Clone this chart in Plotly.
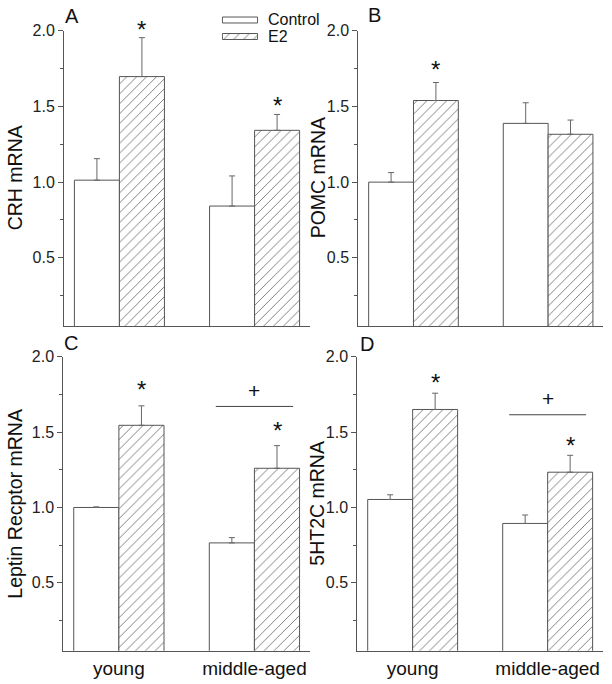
import plotly.graph_objects as go

W, H = 612, 684

groups = ["young", "middle-aged"]
y_titles = ["CRH mRNA", "POMC mRNA", "Leptin Recptor mRNA", "5HT2C mRNA"]
letters = ["A", "B", "C", "D"]

control_vals = [[1.013, 0.842], [1.0, 1.388], [1.0, 0.765], [1.053, 0.894]]
control_err = [[0.142, 0.199], [0.063, 0.136], [0.004, 0.035], [0.031, 0.056]]
e2_vals = [[1.697, 1.342], [1.539, 1.316], [1.545, 1.26], [1.65, 1.234]]
e2_err = [[0.257, 0.105], [0.119, 0.094], [0.129, 0.15], [0.108, 0.112]]

# significance stars above E2 bars (None = no star)
stars = [[2.048, 1.546], [1.783, None], [1.82, 1.547], [1.87, 1.452]]
# "+" marks and bars over the middle-aged group (None = none)
plus_y = [None, None, 1.776, 1.725]
plus_line_y = [None, None, 1.67, 1.615]

Y_RANGE = [0.05, 2.0]

# panel geometry in pixels (left, right, top, bottom)
px_boxes = [(64, 310, 30.7, 326), (358.3, 603.3, 30.7, 326),
            (63.3, 310, 356.7, 650.7), (357.3, 603, 356.7, 650.7)]
title_x = [15, 318, 15, 317]
letter_pos = [(72, 16), (374, 15.5), (71, 343.5), (367, 344)]

FONT = "Liberation Sans, Arial, sans-serif"
AX = "#555555"
fig = go.Figure()
layout = {}
annotations = []
shapes = []


def to_paper(i, v):
    l, r, t, b = px_boxes[i]
    y0, y1 = 1 - b / H, 1 - t / H
    return y0 + (v - Y_RANGE[0]) / (Y_RANGE[1] - Y_RANGE[0]) * (y1 - y0)


for i in range(4):
    n = i + 1
    xa = "x" if n == 1 else f"x{n}"
    ya = "y" if n == 1 else f"y{n}"
    l, r, t, b = px_boxes[i]
    fig.add_trace(go.Bar(
        x=[0, 1], y=control_vals[i], xaxis=xa, yaxis=ya, showlegend=False,
        marker=dict(color="white", line=dict(color=AX, width=1)),
        error_y=dict(type="data", array=control_err[i], arrayminus=[0, 0],
                     symmetric=False, color="#666666", thickness=1, width=3),
    ))
    fig.add_trace(go.Bar(
        x=[0, 1], y=e2_vals[i], xaxis=xa, yaxis=ya, showlegend=False,
        marker=dict(color="white", line=dict(color=AX, width=1),
                    pattern=dict(shape="/", fgcolor="#000000", bgcolor="white",
                                 size=7, solidity=0.14)),
        error_y=dict(type="data", array=e2_err[i], arrayminus=[0, 0],
                     symmetric=False, color="#666666", thickness=1, width=3),
    ))
    layout["xaxis" if n == 1 else f"xaxis{n}"] = dict(
        domain=[l / W, r / W], anchor=ya, range=[-0.41, 1.41],
        tickvals=[0, 1], ticktext=groups, showticklabels=(i >= 2),
        ticks="", showline=True, linecolor=AX, linewidth=1,
        showgrid=False, zeroline=False, automargin=False,
        tickfont=dict(family=FONT, size=19, color="#111"),
    )
    layout["yaxis" if n == 1 else f"yaxis{n}"] = dict(
        domain=[1 - b / H, 1 - t / H], anchor=xa, range=Y_RANGE,
        tickvals=[0.5, 1.0, 1.5, 2.0], ticktext=["0.5", "1.0", "1.5", "2.0"],
        ticks="outside", ticklen=5, tickcolor=AX, tickwidth=1,
        minor=dict(tickvals=[0.25, 0.75, 1.25, 1.75], ticks="outside",
                   ticklen=3, tickcolor=AX, showgrid=False),
        showline=True, linecolor=AX, linewidth=1,
        showgrid=False, zeroline=False, automargin=False,
        tickfont=dict(family=FONT, size=16, color="#222"),
    )
    # y titles
    annotations.append(dict(
        text=y_titles[i], xref="paper", yref="paper", x=title_x[i] / W,
        y=1 - (t + b) / 2 / H, textangle=-90, showarrow=False,
        xanchor="center", yanchor="middle",
        font=dict(family=FONT, size=19.5, color="#111")))
    # panel letters
    lx, ly = letter_pos[i]
    annotations.append(dict(
        text=letters[i], xref="paper", yref="paper", x=lx / W, y=1 - ly / H,
        showarrow=False, xanchor="center", yanchor="middle",
        font=dict(family=FONT, size=20, color="#111")))
    # stars
    for g in range(2):
        sy = stars[i][g]
        if sy is not None:
            annotations.append(dict(
                text="*", xref=xa, yref="paper", x=g + 1 / 6, y=to_paper(i, sy),
                yshift=-6, showarrow=False, xanchor="center", yanchor="middle",
                font=dict(family=FONT, size=24, color="#111")))
    if plus_y[i] is not None:
        annotations.append(dict(
            text="+", xref=xa, yref=ya, x=1.0, y=plus_y[i],
            showarrow=False, xanchor="center", yanchor="middle",
            font=dict(family=FONT, size=21, color="#111")))
        shapes.append(dict(type="line", xref=xa, yref=ya, x0=1.0 - 0.285,
                           x1=1.0 + 0.285, y0=plus_line_y[i], y1=plus_line_y[i],
                           line=dict(color="#444", width=1)))

# legend (drawn on its own hidden axes)
legend_labels = ["Control", "E2"]
fig.add_trace(go.Bar(
    x=[1, 1], y=[1, 0], orientation="h", width=0.36, xaxis="x5", yaxis="y5",
    showlegend=False, hoverinfo="skip",
    marker=dict(color="white", line=dict(color=AX, width=1),
                pattern=dict(shape=["", "/"], fgcolor="#000000", bgcolor="white",
                             size=7, solidity=0.14)),
))
layout["xaxis5"] = dict(domain=[221.7 / W, 258.3 / W], range=[-0.02, 1.02],
                        visible=False, anchor="y5", automargin=False)
layout["yaxis5"] = dict(domain=[1 - 44.75 / H, 1 - 11.75 / H], range=[-0.5, 1.5],
                        visible=False, anchor="x5", automargin=False)
for lab, ly in zip(legend_labels, [20, 36.5]):
    annotations.append(dict(
        text=lab, xref="paper", yref="paper", x=266 / W, y=1 - ly / H,
        showarrow=False, xanchor="left", yanchor="middle",
        font=dict(family=FONT, size=16, color="#111")))

fig.update_layout(
    width=W, height=H, margin=dict(l=0, r=0, t=0, b=0, pad=0),
    paper_bgcolor="white", plot_bgcolor="white",
    barmode="group", bargap=0.334, bargroupgap=0,
    annotations=annotations, shapes=shapes, **layout,
)

post = ("document.documentElement.style.margin='0';"
        "document.body.style.margin='0';document.body.style.padding='0';"
        "var d=document.getElementById('{plot_id}');"
        "d.style.position='absolute';d.style.top='0px';d.style.left='0px';")

fig.write_html("out.html", config={"displayModeBar": False}, post_script=post)
